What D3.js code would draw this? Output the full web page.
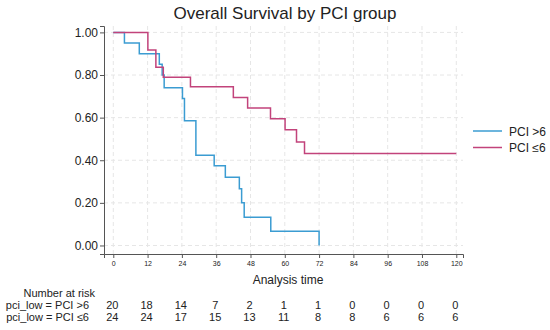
<!DOCTYPE html>
<html>
<head>
<meta charset="utf-8">
<script src="https://cdn.jsdelivr.net/npm/d3@7"></script>
<style>
  body { margin: 0; background: #fff; }
  svg text { font-family: "Liberation Sans", Arial, sans-serif; fill: #222; }
</style>
</head>
<body>
<div id="chart"></div>
<script>
const width = 550
const height = 330

// data
const monthTicks = [0, 12, 24, 36, 48, 60, 72, 84, 96, 108, 120]
const survTicks = [0, 0.2, 0.4, 0.6, 0.8, 1.0]
const groups = ["PCI >6", "PCI \u22646"]
const riskLabels = ["pci_low = PCI >6", "pci_low = PCI \u22646"]
const colors = ["#3b9cd2", "#c2437b"]

const highTimes = [0, 3.9, 9.1, 16.1, 17.1, 17.8, 24.2, 24.9, 28.9, 35.3, 39.2, 44.1, 44.9, 45.8, 55.1, 72]
const highSurv = [1, 0.95, 0.90, 0.85, 0.80, 0.74, 0.69, 0.585, 0.424, 0.374, 0.32, 0.266, 0.20, 0.133, 0.067, 0]
const lowTimes = [0, 12.1, 14.9, 17.5, 27.0, 42.0, 47.0, 55.0, 60.1, 64.1, 66.9, 120]
const lowSurv = [1, 0.917, 0.837, 0.79, 0.745, 0.695, 0.645, 0.595, 0.543, 0.486, 0.432, 0.432]

const highRisk = [20, 18, 14, 7, 2, 1, 1, 0, 0, 0, 0]
const lowRisk = [24, 24, 17, 15, 13, 11, 8, 8, 6, 6, 6]

const svg = d3.select("#chart")
    .append("svg")
    .attr("width", width)
    .attr("height", height)

const x = d3.scaleLinear().domain([-3.25, 122.35]).range([104, 463])
const y = d3.scaleLinear().domain([-0.04, 1.03]).range([254, 26])

// grid
svg.append("g")
    .selectAll("line")
    .data(monthTicks)
    .enter()
    .append("line")
    .attr("x1", d => x(d)).attr("x2", d => x(d))
    .attr("y1", y.range()[1]).attr("y2", y.range()[0])
    .attr("stroke", "#e6e6e6").attr("stroke-dasharray", "4,3")
svg.append("g")
    .selectAll("line")
    .data(survTicks)
    .enter()
    .append("line")
    .attr("x1", x.range()[0]).attr("x2", x.range()[1])
    .attr("y1", d => y(d)).attr("y2", d => y(d))
    .attr("stroke", "#e6e6e6").attr("stroke-dasharray", "4,3")

// axes
const yAxis = svg.append("g")
    .attr("transform", `translate(${x.range()[0]},0)`)
    .call(d3.axisLeft(y).tickValues(survTicks).tickFormat(d3.format(".2f")).tickSize(4).tickPadding(2))
yAxis.selectAll("text").style("font-size", "12px")
const xAxis = svg.append("g")
    .attr("transform", `translate(0,${y.range()[0]})`)
    .call(d3.axisBottom(x).tickValues(monthTicks).tickSize(4).tickPadding(3))
xAxis.selectAll("text").style("font-size", "7px")
svg.selectAll(".domain, .tick line").attr("stroke", "#555")

// survival curves
const line = d3.line()
    .x(d => x(d[0]))
    .y(d => y(d[1]))
    .curve(d3.curveStepAfter)
const series = [
    d3.zip(highTimes, highSurv),
    d3.zip(lowTimes, lowSurv)
]
series.forEach((s, i) => {
    svg.append("path")
        .datum(s)
        .attr("d", line)
        .attr("fill", "none")
        .attr("stroke", colors[i])
        .attr("stroke-width", 1.5)
})

// title and axis title
svg.append("text")
    .text("Overall Survival by PCI group")
    .attr("x", 285).attr("y", 19)
    .attr("text-anchor", "middle")
    .style("font-size", "17px")
svg.append("text")
    .text("Analysis time")
    .attr("x", 288).attr("y", 284)
    .attr("text-anchor", "middle")
    .style("font-size", "12px")

// legend
groups.forEach((g, i) => {
    let ly = 131 + i * 16.5
    svg.append("line")
        .attr("x1", 473).attr("x2", 502)
        .attr("y1", ly).attr("y2", ly)
        .attr("stroke", colors[i]).attr("stroke-width", 1.5)
    svg.append("text")
        .text(g)
        .attr("x", 509).attr("y", ly + 4.5)
        .style("font-size", "12px")
})

// number at risk table
svg.append("text")
    .text("Number at risk")
    .attr("x", 95).attr("y", 296.5)
    .attr("text-anchor", "end")
    .style("font-size", "11px")
const riskRows = [highRisk, lowRisk]
riskRows.forEach((row, i) => {
    let ry = 308.5 + i * 12.5
    svg.append("text")
        .text(riskLabels[i])
        .attr("x", 89).attr("y", ry)
        .attr("text-anchor", "end")
        .style("font-size", "11px")
    svg.append("g")
        .selectAll("text")
        .data(row)
        .enter()
        .append("text")
        .text(d => d)
        .attr("x", (d, j) => x(monthTicks[j]) - 1)
        .attr("y", ry)
        .attr("text-anchor", "middle")
        .style("font-size", "11px")
})
</script>
</body>
</html>
